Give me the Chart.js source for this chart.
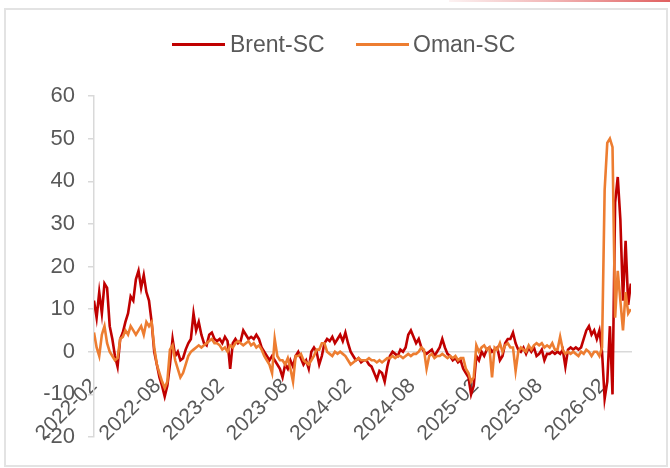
<!DOCTYPE html>
<html lang="zh">
<head>
<meta charset="utf-8">
<title>Brent-SC / Oman-SC</title>
<script src="https://cdn.jsdelivr.net/npm/chart.js@4.4.1/dist/chart.umd.min.js"></script>
<style>
  html, body { margin: 0; padding: 0; background: #fff; }
  .wrap { position: relative; width: 670px; height: 468px; overflow: hidden; }
  .frame { position: absolute; left: 4px; top: 8px; width: 664px; height: 459px; box-sizing: border-box; border: 2px solid #e3e3e3; }
  .topline { position: absolute; left: 449px; top: 0; width: 221px; height: 2px;
    background: linear-gradient(to right, rgba(240,190,190,0.2), #f2b8b8 45%, #e06060); }
  canvas { position: absolute; left: 0; top: 0; }
  .legend { position: absolute; left: 0; top: 0; font: 23px 'Liberation Sans', sans-serif; color: #595959; }
  .legend .sw { position: absolute; top: 43px; width: 53px; height: 3px; }
  .legend .lb { position: absolute; top: 32px; line-height: 24px; white-space: nowrap; }
</style>
</head>
<body>
<div class="wrap">
  <div class="frame"></div>
  <div class="topline"></div>
  <canvas id="spreadChart" width="670" height="468"></canvas>
  <div class="legend">
    <span class="sw" style="left:172px;background:#C00000;"></span>
    <span class="lb" style="left:230px;">Brent-SC</span>
    <span class="sw" style="left:356px;background:#ED7D31;"></span>
    <span class="lb" style="left:413px;">Oman-SC</span>
  </div>
</div>
<script>
// 价差走势：Brent-SC 与 Oman-SC
const STEP = 0.247;   // 采样间隔（月），起点 2022-02
const X_MAX = 50.65;

const tickLabels = ['2022-02', '2022-08', '2023-02', '2023-08', '2024-02',
                    '2024-08', '2025-02', '2025-08', '2026-02'];

const brentSC = [
  12, 8, 14, 9, 16, 15, 6, 3,
  -1, -3.5, 3, 4.5, 7, 9, 13, 12,
  17, 19, 15, 18, 14, 12, 7, 0,
  -3, -6, -8, -10.5, -8, -3, 3, -1,
  0, -2, -1.5, 0.5, 2, 3, 9, 5,
  7, 4, 2, 1.5, 4, 4.5, 3, 2.5,
  3, 2, 3.5, 2.5, -4, 2, 3, 2,
  2.5, 5, 4, 3, 3.5, 3, 4, 3,
  1, 0, -1, -2, -1, -2, -3, -4,
  -6, -3, -4, -2, -3.5, -1, 0, -1.5,
  -3, -2, -4, 0, 1, 0, -3, -1,
  2, 3, 2.5, 3.5, 2, 3, 4, 2.5,
  4.5, 2, 0, -1, -2, -1.5, -2.5, -2,
  -2, -3, -3.5, -5, -6.5, -4.5, -5, -7,
  -3.5, -1, 0, -0.5, -1, 0.5, 0, 1,
  4, 5, 3.5, 2, 3, 1, 0, -0.5,
  0, 0.5, -1, 0, 1, 3, 1, -0.5,
  -1, -2, -1.5, -2.5, -2, -4, -5, -6,
  -10, -8, -1, -2, 0, -1, 0.5, 1,
  0, 0.5, 1, -2, -1, 2, 3, 3,
  4.5, 2, 0.5, 0, 1, -0.5, 1, 0,
  1, -1, -0.5, 0.5, -2, -0.5, -0.5, 0,
  -0.5, 0, -0.5, 0.5, -3.5, 0.5, 1, 0.5,
  1, 0.5, 1, 3, 5, 6, 4, 5,
  3, 5, 0, -11, -7, 6, -10, 35,
  41, 31, 12, 26, 11, 16
];

const omanSC = [
  4.5, 1, -1, 4, 6, 2, 0, -1,
  -2, -1.5, 3, 3.5, 5, 4, 6, 5,
  4, 5, 6, 4, 7, 6, 7, 1,
  -3, -5, -7, -8.5, -7, 0.5, 1.5, -2,
  -4, -6, -5, -3, -1, 0, 0.5, 1,
  1.5, 1, 1.5, 2, 2.5, 3, 2, 2,
  1.5, 0.5, 1, 0, 1.5, 1, 2, 2.5,
  2, 1.5, 2, 2.5, 1.5, 2, 1, 1.5,
  0.5, -1, -2, -3, -5, 3, -1, -2,
  -2, -3, -1.5, -4, -7, -1, -1, -0.5,
  -2, -2.5, -3, -2, -1, 0.5, 0.5, 2,
  2, 0, -0.5, -1, 0, -0.5, 0, -0.5,
  -1, -2, -3, -2.5, -2, -1.5, -2, -2,
  -2, -1.5, -2, -2, -2.5, -2, -2.5, -2,
  -1.5, -1.5, -1, -1.5, -1, -1, -1.5, -1,
  -0.5, -1, -0.5, -0.5, 0, 1, 0.5, -4,
  -1, -0.5, -1.5, -1, -1, -0.5, -1, -1.5,
  -1, -1.5, -1, -2, -1.5, -1.5, -4, -5,
  -7, -6, 1.5, 0, 1, 1.5, 0.5, 1,
  -6, 1, 0.5, 2, 0, 1.5, 2, 1,
  1, -4.5, 0, 1, 0.5, 0, 1.5, 0.5,
  1.5, 2, 1.5, 2, 1, 1.5, 1, 2,
  0.5, 0.5, 3.5, 0.5, -0.5, 0, -0.5, 0,
  -0.5, -1, 0, -0.5, 0.5, 0, -1, 0,
  0, -1, 1, 38, 49, 50, 48, 8,
  19, 12, 5, 14, 9, 10
];

document.addEventListener('DOMContentLoaded', () => {
  const ctx = document.getElementById('spreadChart').getContext('2d');
  const textColor = '#595959';
  const axisColor = '#d9d9d9';

  Chart.defaults.font.family = "'Liberation Sans', Arial, sans-serif";
  Chart.defaults.color = textColor;

  const toPoints = (arr) => arr.map((v, i) => ({ x: i * STEP, y: v }));

  new Chart(ctx, {
    type: 'line',
    data: {
      datasets: [
        {
          label: 'Oman-SC',
          data: toPoints(omanSC),
          borderColor: '#ED7D31',
          backgroundColor: '#ED7D31',
          borderWidth: 2.6,
          pointRadius: 0,
          tension: 0,
          order: 0
        },
        {
          label: 'Brent-SC',
          data: toPoints(brentSC),
          borderColor: '#C00000',
          backgroundColor: '#C00000',
          borderWidth: 2.6,
          pointRadius: 0,
          tension: 0,
          order: 1
        }
      ]
    },
    options: {
      responsive: false,
      animation: false,
      devicePixelRatio: 1,
      layout: { padding: { left: 0, top: 96, right: 39, bottom: 31 } },
      plugins: {
        legend: { display: false },
        tooltip: { enabled: false }
      },
      scales: {
        x: {
          type: 'linear',
          position: { y: 0 },
          min: 0,
          max: X_MAX,
          grid: { display: false },
          border: { color: axisColor, width: 1.5 },
          ticks: {
            stepSize: 6,
            includeBounds: false,
            autoSkip: false,
            minRotation: 45,
            maxRotation: 45,
            padding: 14,
            font: { size: 21 },
            color: textColor,
            callback: (value) => {
              const idx = value / 6;
              return Number.isInteger(idx) ? (tickLabels[idx] || '') : '';
            }
          }
        },
        y: {
          min: -20,
          max: 60,
          afterFit: (scale) => { scale.width = 94; },
          grid: { drawOnChartArea: false, tickLength: 6, color: axisColor, lineWidth: 1.5 },
          border: { color: axisColor, width: 1.5 },
          ticks: {
            stepSize: 10,
            padding: 13,
            font: { size: 22 },
            color: textColor
          }
        }
      }
    }
  });
});
</script>
</body>
</html>
